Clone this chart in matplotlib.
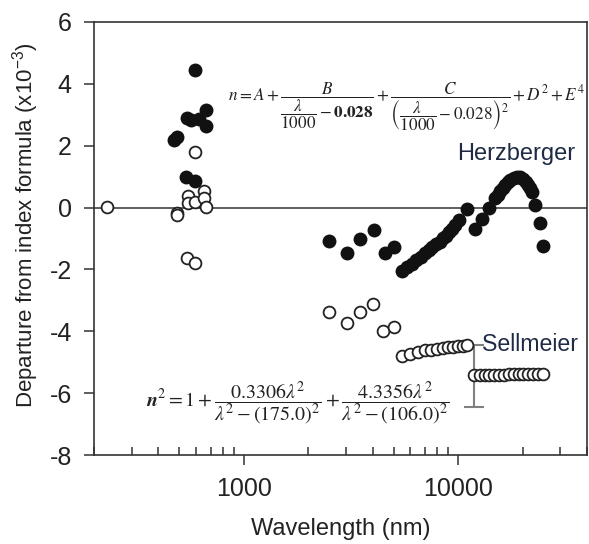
import matplotlib
matplotlib.use("Agg")
import matplotlib.pyplot as plt
import numpy as np

plt.rcParams['font.family'] = ['Liberation Sans', 'DejaVu Sans']
plt.rcParams['mathtext.fontset'] = 'stix'
plt.rcParams['axes.unicode_minus'] = False

# Herzberger formula residuals (filled circles)
hz_vis_wl = [475, 486, 546, 540, 568, 589, 589, 620, 665, 667]
hz_vis_dev = [2.18, 2.28, 2.89, 0.98, 2.84, 4.46, 0.85, 2.86, 3.16, 2.64]

hz_ir_wl = [2510, 3020, 3480, 4040, 4540, 5010]
hz_ir_dev = [-1.07, -1.48, -1.02, -0.72, -1.48, -1.26]

hz_far_wl = [5500, 5800, 6100, 6400, 6700, 7000, 7300, 7600, 7900, 8200, 8500,
             8800, 9100, 9400, 9700, 10100, 11000, 12000, 12900, 13900, 14950,
             15400, 15760, 16200, 16630, 17100, 17540, 18200, 18820, 19500,
             20210, 20700, 21160, 21700, 22240, 22890, 24150, 25030]
hz_far_dev = [-2.05, -1.93, -1.81, -1.70, -1.59, -1.48, -1.38, -1.29, -1.19,
              -1.10, -1.00, -0.91, -0.80, -0.70, -0.58, -0.40, -0.05, -0.70,
              -0.38, -0.02, 0.30, 0.42, 0.52, 0.63, 0.73, 0.83, 0.90, 0.97,
              1.00, 0.98, 0.92, 0.83, 0.73, 0.62, 0.49, 0.09, -0.49, -1.24]

# Sellmeier formula residuals (open circles)
sm_vis_wl = [230, 490, 486, 548, 550, 545, 589, 594, 589, 653, 655, 667]
sm_vis_dev = [0.02, -0.18, -0.24, 0.36, 0.15, -1.62, 1.81, 0.19, -1.78, 0.52, 0.31, 0.03]

sm_ir_wl = [2510, 3020, 3500, 4010, 4460, 5010]
sm_ir_dev = [-3.37, -3.74, -3.39, -3.13, -3.98, -3.85]

sm_mid_wl = [5500, 6000, 6500, 7000, 7500, 8000, 8500, 9000, 9500, 10000, 10500, 11000]
sm_mid_dev = [-4.80, -4.72, -4.66, -4.62, -4.59, -4.56, -4.54, -4.52, -4.50, -4.49, -4.47, -4.44]

sm_far_wl = [11900, 12600, 13300, 14000, 14800, 15600, 16400, 17300, 18200,
             19200, 20200, 21300, 22400, 23700, 25000]
sm_far_dev = [-5.42, -5.42, -5.41, -5.41, -5.40, -5.40, -5.40, -5.39, -5.39,
              -5.39, -5.38, -5.38, -5.38, -5.37, -5.37]

# offset between the two Sellmeier segments
step_wl = 11900
step_top = -4.44
step_bottom = -6.46

fig = plt.figure(figsize=(5.89, 5.44), dpi=100)
ax = fig.add_axes([0.1596, 0.1636, 0.8370, 0.7960])

ax.axhline(0, color='#333333', lw=1.1, zorder=1)

ax.errorbar([step_wl], [step_top], yerr=[[step_top - step_bottom], [0]],
            fmt='none', ecolor='#808080', elinewidth=1.5, capsize=7, capthick=1.5, zorder=2)

filled = dict(marker='o', ls='none', ms=9, mfc='#111111', mec='#111111', zorder=3)
hollow = dict(marker='o', ls='none', ms=8.5, mfc='white', mec='#222222', mew=1.3, zorder=4)

for wl, dev in [(hz_vis_wl, hz_vis_dev), (hz_ir_wl, hz_ir_dev), (hz_far_wl, hz_far_dev)]:
    ax.plot(wl, dev, **filled)
for wl, dev in [(sm_vis_wl, sm_vis_dev), (sm_ir_wl, sm_ir_dev),
                (sm_mid_wl, sm_mid_dev), (sm_far_wl, sm_far_dev)]:
    ax.plot(wl, dev, **hollow)

ax.set_xscale('log')
ax.set_xlim(200, 40000)
ax.set_ylim(-8, 6)
ax.set_yticks(np.arange(-8, 7, 2))
ax.set_xticks([1000, 10000])
ax.set_xticklabels(['1000', '10000'])
ax.xaxis.set_minor_formatter(matplotlib.ticker.NullFormatter())

ax.tick_params(axis='both', which='major', direction='out', length=7, width=1.1,
               labelsize=18, pad=9, colors='#333333', labelcolor='#222222')
ax.tick_params(axis='x', which='minor', direction='in', length=6, width=1.1, colors='#333333')
for s in ax.spines.values():
    s.set_color('#333333')
    s.set_linewidth(1.2)

ax.set_xlabel('Wavelength (nm)', fontsize=17, color='#222222', labelpad=12)
ax.set_ylabel(r'Departure from index formula (x10$^{\mathregular{-3}}$)', fontsize=16,
              color='#222222')
ax.yaxis.set_label_coords(-0.107, 0.53)

ax.text(9900, 1.74, 'Herzberger', fontsize=17, color='#1f2a44', va='center', ha='left')
ax.text(0.787, step_top, 'Sellmeier', fontsize=16.7, color='#1f2a44', va='center', ha='left',
        transform=matplotlib.transforms.blended_transform_factory(ax.transAxes, ax.transData))

ax.text(0.633, 0.805,
        r'$n = A + \dfrac{B}{\dfrac{\lambda}{1000} - \mathbf{0.028}} + '
        r'\dfrac{C}{\left(\dfrac{\lambda}{1000} - 0.028\right)^2} + D^2 + E^4$',
        transform=ax.transAxes, ha='center', va='center', fontsize=12.3, color='#222222')
ax.text(0.412, 0.12,
        r'$\boldsymbol{n}^2 = 1 + \dfrac{0.3306\lambda^2}{\lambda^2 - (175.0)^2} + '
        r'\dfrac{4.3356\lambda^2}{\lambda^2 - (106.0)^2}$',
        transform=ax.transAxes, ha='center', va='center', fontsize=14.4, color='#222222')

fig.savefig('out.png', dpi=100)
